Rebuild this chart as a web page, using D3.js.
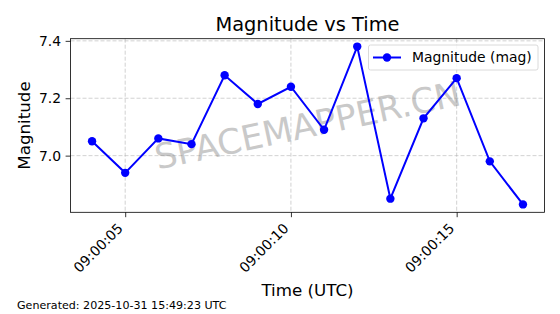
<!DOCTYPE html>
<html><head><meta charset="utf-8">
<script src="https://cdn.jsdelivr.net/npm/d3@7"></script>
<style>body{margin:0;background:#fff}svg{display:block}text{font-family:"DejaVu Sans",sans-serif}</style>
</head><body>
<script>
const times = ["09:00:04","09:00:05","09:00:06","09:00:07","09:00:08","09:00:09","09:00:10","09:00:11","09:00:12","09:00:13","09:00:14","09:00:15","09:00:16","09:00:17"];
const magnitudes = [7.05,6.94,7.06,7.04,7.28,7.18,7.24,7.09,7.38,6.85,7.13,7.27,6.98,6.83];
const xTickLabels = ["09:00:05","09:00:10","09:00:15"];
const yTickValues = [7.0,7.2,7.4];
const seriesName = "Magnitude (mag)";

const W=560,H=314;
const m={l:70.5,r:544.5,t:38.7,b:212.3};
const parse = s => new Date("2025-10-31T"+s+"Z");
const data = times.map((t,i)=>({t:parse(t),v:magnitudes[i]}));

const svg=d3.select("body").append("svg").attr("width",W).attr("height",H);
const t0=d3.min(data,d=>d.t), t1=d3.max(data,d=>d.t);
const span=t1-t0;
const x=d3.scaleUtc().domain([new Date(+t0-span*0.05),new Date(+t1+span*0.05)]).range([m.l,m.r]);
const vmin=d3.min(magnitudes),vmax=d3.max(magnitudes),vr=vmax-vmin;
const y=d3.scaleLinear().domain([vmin-vr*0.05,vmax+vr*0.05]).range([m.b,m.t]);

const xTicks=xTickLabels.map(parse);
// grid
const g=svg.append("g");
g.selectAll(".gx").data(xTicks).join("line").attr("x1",d=>x(d)).attr("x2",d=>x(d)).attr("y1",m.t).attr("y2",m.b)
 .attr("stroke","#b0b0b0").attr("stroke-width",0.8).attr("stroke-dasharray","4,2").attr("opacity",0.7);
g.selectAll(".gy").data(yTickValues).join("line").attr("x1",m.l).attr("x2",m.r).attr("y1",d=>y(d)).attr("y2",d=>y(d))
 .attr("stroke","#b0b0b0").attr("stroke-width",0.8).attr("stroke-dasharray","4,2").attr("opacity",0.7);

// watermark
const cx=(m.l+m.r)/2, cy=(m.t+m.b)/2;
svg.append("text").attr("x",0).attr("y",12).attr("text-anchor","middle")
 .attr("transform",`translate(${cx},${cy}) rotate(-12)`).attr("font-size",34.7).attr("fill","#808080").attr("opacity",0.42)
 .text("SPACEMAPPER.CN");

// line
svg.append("path").datum(data).attr("fill","none").attr("stroke","#0000ff").attr("stroke-width",2)
 .attr("d",d3.line().x(d=>x(d.t)).y(d=>y(d.v)));
svg.selectAll(".pt").data(data).join("circle").attr("cx",d=>x(d.t)).attr("cy",d=>y(d.v)).attr("r",4.2).attr("fill","#0000ff");

// axes
const xa=svg.append("g").attr("transform",`translate(0,${m.b})`)
 .call(d3.axisBottom(x).tickValues(xTicks).tickFormat(d3.utcFormat("%H:%M:%S")).tickSize(4.9).tickSizeOuter(0));
xa.select(".domain").remove();
xa.selectAll("line").attr("stroke","#000").attr("stroke-width",0.8);
xa.selectAll("text").attr("font-size",13.9).attr("fill","#000").attr("text-anchor","end")
 .attr("transform","translate(-2,17) rotate(-45)").attr("dy",0).attr("y",0).attr("x",0);

const ya=svg.append("g").attr("transform",`translate(${m.l},0)`)
 .call(d3.axisLeft(y).tickValues(yTickValues).tickFormat(d3.format(".1f")).tickSize(4.9).tickSizeOuter(0));
ya.select(".domain").remove();
ya.selectAll("line").attr("stroke","#000").attr("stroke-width",0.8);
ya.selectAll("text").attr("font-size",13.9).attr("fill","#000").attr("x",-9.5);

svg.append("rect").attr("x",m.l).attr("y",m.t).attr("width",m.r-m.l).attr("height",m.b-m.t)
 .attr("fill","none").attr("stroke","#000").attr("stroke-width",0.8);

// titles
svg.append("text").attr("x",cx).attr("y",31).attr("text-anchor","middle").attr("font-size",19.4).text("Magnitude vs Time");
svg.append("text").attr("x",cx).attr("y",296).attr("text-anchor","middle").attr("font-size",16.7).text("Time (UTC)");
svg.append("text").attr("transform",`translate(30,${cy}) rotate(-90)`).attr("text-anchor","middle").attr("font-size",16.7).text("Magnitude");
svg.append("text").attr("x",17).attr("y",308.5).attr("font-size",11.1).text("Generated: 2025-10-31 15:49:23 UTC");

// legend
const lg=svg.append("g");
lg.append("rect").attr("x",368.5).attr("y",45).attr("width",169.5).attr("height",25).attr("rx",2)
 .attr("fill","#fff").attr("fill-opacity",0.8).attr("stroke","#d0d0d0").attr("stroke-width",0.8);
lg.append("line").attr("x1",373).attr("x2",401).attr("y1",57.5).attr("y2",57.5).attr("stroke","#0000ff").attr("stroke-width",2);
lg.append("circle").attr("cx",387).attr("cy",57.5).attr("r",4.2).attr("fill","#0000ff");
lg.append("text").attr("x",412).attr("y",62).attr("font-size",13.9).text(seriesName);
</script>
</body></html>
